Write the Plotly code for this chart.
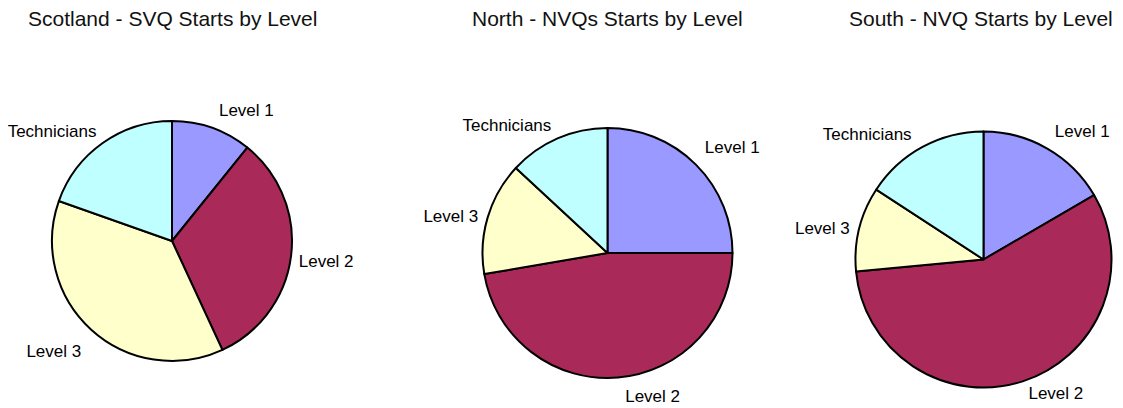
import plotly.graph_objects as go

levels = ["Level 1", "Level 2", "Level 3", "Technicians"]
colors = ["#9999FF", "#A92A58", "#FFFFCC", "#C0FFFF"]

scotland_values = [10.8, 32.3, 37.3, 19.6]
north_values = [25.0, 47.3, 14.6, 13.1]
south_values = [16.6, 56.9, 10.7, 15.8]

titles = ["Scotland - SVQ Starts by Level", "North - NVQs Starts by Level", "South - NVQ Starts by Level"]

# page body adds an 8px margin, so the figure is drawn 8px in from the top-left
OFF = 8
W, H = 1123 - OFF, 408 - OFF
NB = "\u00a0"
FS = 17

def dom(cx, cy, r):
    cx -= OFF
    cy -= OFF
    return dict(x=[(cx - r) / W, (cx + r) / W], y=[1 - (cy + r) / H, 1 - (cy - r) / H])

# label placement style: (spacer position, spacer size fraction, trailing spaces)
# a small spacer line pushes the outside label a bit further from the pie
def label_text(style):
    texts, sizes = [], []
    for lab, (pos, frac, sp) in zip(levels, style):
        body = lab + NB * sp
        if pos is None:
            texts.append(body)
            sizes.append(FS)
            continue
        big = "<span style='font-size:%.1fpx'>%s</span>" % (FS, body)
        texts.append(big + "<br>" + NB if pos == "below" else NB + "<br>" + big)
        sizes.append(FS * frac)
    return texts, sizes

pies = [
    (scotland_values, dom(172, 241, 120),
     [("below", 0.5, 0), ("above", 0.7, 0), ("above", 0.95, 0), ("below", 0.4, 0)]),
    (north_values, dom(607.5, 253, 125),
     [("below", 0.8, 0), ("above", 0.65, 0), (None, 0, 1), ("below", 0.4, 0)]),
    (south_values, dom(983.5, 259.5, 128),
     [("below", 0.6, 0), ("above", 0.5, 0), (None, 0, 1), ("below", 0.4, 1)]),
]

fig = go.Figure()
for vals, d, style in pies:
    texts, sizes = label_text(style)
    fig.add_trace(go.Pie(
        labels=levels, values=vals, sort=False, direction="clockwise", rotation=0,
        marker=dict(colors=colors, line=dict(color="black", width=2)),
        text=texts, textinfo="text", textposition="outside",
        textfont=dict(family="Liberation Sans, Arial", size=sizes, color="black"),
        domain=d, hoverinfo="label+value", showlegend=False, automargin=False,
    ))

title_x = [172, 607, 981]
for t, x in zip(titles, title_x):
    fig.add_annotation(text=t, x=(x - OFF) / W, y=1 - (19 - OFF) / H, xref="paper", yref="paper",
                       xanchor="center", yanchor="middle", showarrow=False,
                       font=dict(family="Liberation Sans, Arial", size=21, color="#111111"))

fig.update_layout(width=W, height=H, margin=dict(l=0, r=0, t=0, b=0),
                  paper_bgcolor="white", plot_bgcolor="white")
fig.write_html("out.html")
